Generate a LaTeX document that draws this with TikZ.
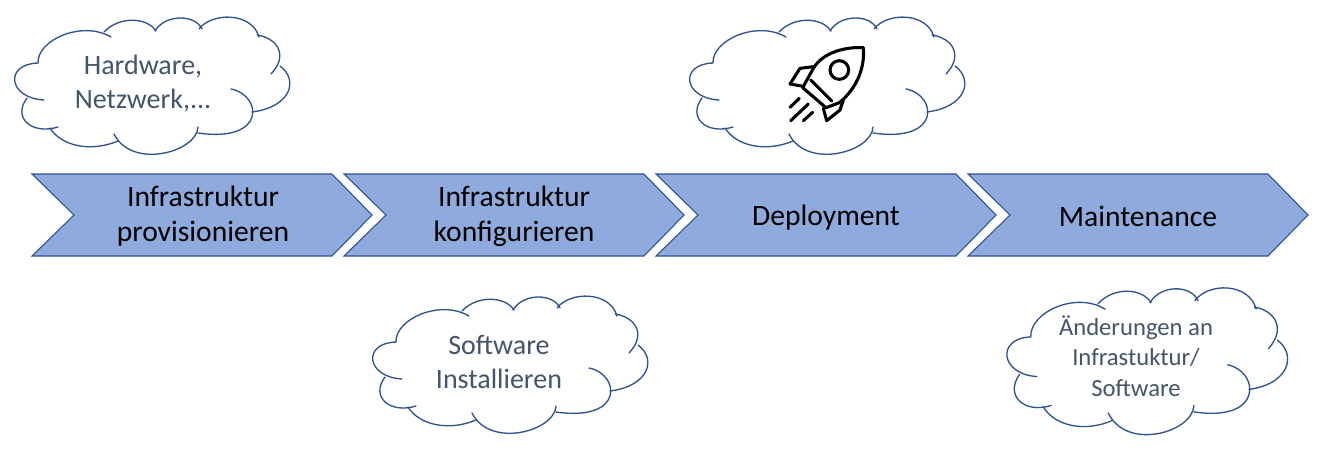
\documentclass[tikz,border=0pt]{standalone}
\usepackage{fontspec}
\setmainfont{Carlito}
\usepackage{xcolor}
\definecolor{pfeilfill}{HTML}{8FAADC}
\definecolor{linie}{HTML}{2F528F}
\definecolor{wolketext}{HTML}{44546A}
\tikzset{
  pfeil/.style={fill=pfeilfill,draw=linie,line width=0.8pt,line join=miter},
  pfeiltext/.style={align=center,text=black,inner sep=0pt,font=\fontsize{22.2}{26.3}\selectfont},
  wolketxt/.style={align=center,text=wolketext,inner sep=0pt,font=\fontsize{21}{26}\selectfont},
  pics/wolke/.style={code={
    %the filled outline first, then the lobes with their tails
    \fill[white] (-114,-22) -- (-40,-55) -- (60,-60) -- (107,-48) -- (120,-20) -- (128,10) -- (100,27) -- (80,45) -- (45,50) -- (0,65) -- (-35,55) -- (-85,45) -- (-125,30) -- (-135,0) -- cycle;
    \draw[wolkelinie] (-114,-22) .. controls (-115,-45) and (-70,-65) .. (-41,-48);
    \draw[wolkelinie] (-48,-53) .. controls (-33,-69) and (-5,-68) .. (4,-54);
    \draw[wolkelinie] (3,-54) .. controls (13,-71) and (43,-71) .. (50,-56);
    \draw[wolkelinie] (47,-56) .. controls (60,-73) and (100,-73) .. (107,-48);
    \draw[wolkelinie] (105,-50) .. controls (125,-47) and (137,-30) .. (119,-11);
    \draw[wolkelinie] (128,-19) .. controls (147,-5) and (139,22) .. (100,27);
    \draw[wolkelinie] (79,4) .. controls (110,10) and (115,58) .. (46,48);
    \draw[wolkelinie] (46,42) .. controls (45,67) and (-20,85) .. (-38,49);
    \draw[wolkelinie] (-34,56) .. controls (-60,67) and (-90,62) .. (-102,43);
    \draw[wolkelinie] (-94,42) .. controls (-120,50) and (-140,33) .. (-125,13);
    \draw[wolkelinie] (-108,15) .. controls (-144,13) and (-148,-21) .. (-114,-22);
  }},
  wolkelinie/.style={draw=linie,line width=1pt,line cap=round},
}
\begin{document}
\begin{tikzpicture}[x=0.75pt,y=-0.75pt]
\useasboundingbox (0,0) rectangle (1330,451);
%the four arrows
\foreach \px/\name in {32/a,344/b,656/c,968/d}{
  \draw[pfeil] (\px,174) -- ++(300,0) -- ++(40,41) -- ++(-40,41) -- ++(-300,0) -- ++(42,-41) -- cycle;
}
\node[pfeiltext] (infraprov) at (203,216) {Infrastruktur\\provisionieren};
\node[pfeiltext] (infrakonf) at (514,216) {Infrastruktur\\konfigurieren};
\node[pfeiltext] (deploy) at (826,218) {Deployment};
\node[pfeiltext] (maint) at (1138,216) {Maintenance};
%clouds
\pic at (152,85) {wolke};
\pic at (827,85) {wolke};
\pic at (510,364) {wolke};
\pic[xscale=1.02,yscale=1.07] at (1147,360.5) {wolke};
\node[wolketxt] (hardware) at (143,83.5) {Hardware,\\Netzwerk,...};
\node[wolketxt] (software) at (499,362) {Software\\Installieren};
\node[wolketxt,font=\fontsize{18.5}{23}\selectfont] (aenderung) at (1136,356) {Änderungen an\\Infrastuktur/\\Software};
%rocket
\begin{scope}[shift={(680,5)},x=0.25pt,y=-0.25pt,line width=2.3pt,line cap=round,line join=round,black]
  \draw (368,248) -- (400,190) .. controls (430,140) and (500,125) .. (550,128) .. controls (555,190) and (530,250) .. (478,293) -- (438,308) -- cycle;
  \draw (392,225) -- (455,288);
  \draw (400,185) -- (360,190) -- (330,237) -- (365,243);
  \draw (490,285) -- (480,315) -- (440,347) -- (430,310);
  \draw (478,195) circle (28);
  \draw (330,307) -- (358,280);
  \draw (332,347) -- (385,297);
  \draw (370,347) -- (398,322);
\end{scope}
\end{tikzpicture}
\end{document}
